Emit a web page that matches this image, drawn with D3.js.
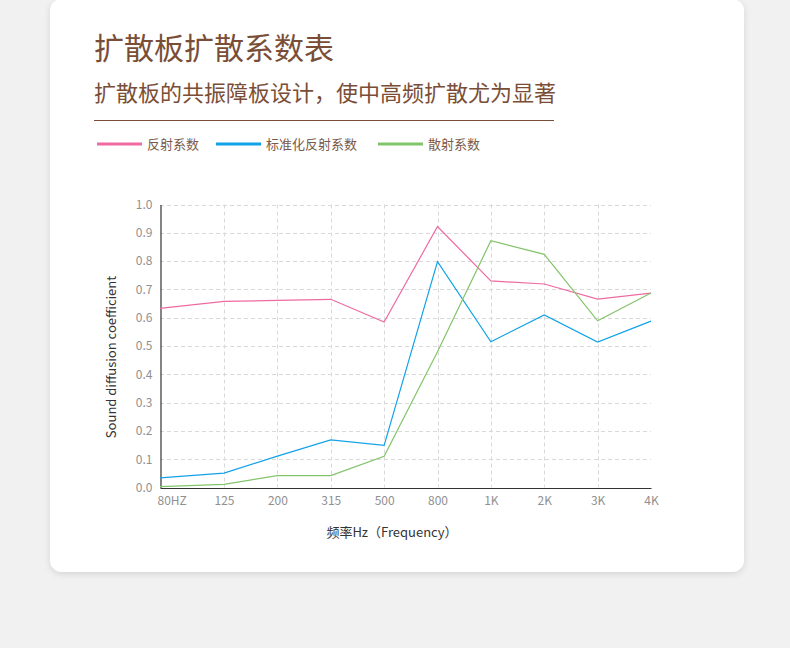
<!DOCTYPE html>
<html>
<head>
<meta charset="utf-8">
<script src="https://cdn.jsdelivr.net/npm/d3@7"></script>
<style>
    html, body {
        margin: 0;
        padding: 0;
        background: #f1f1f1;
        font-family: "Noto Sans CJK SC", "Noto Sans", sans-serif;
    }
    svg { display: block; }
</style>
</head>
<body>
<div id="chart"></div>
<script>
    // chart data
    let freqs = ['80HZ', '125', '200', '315', '500', '800', '1K', '2K', '3K', '4K']
    let reflect = [0.633, 0.658, 0.661, 0.665, 0.585, 0.922, 0.730, 0.719, 0.666, 0.687]
    let normReflect = [0.034, 0.051, 0.111, 0.168, 0.149, 0.798, 0.515, 0.610, 0.514, 0.588]
    let scatter = [0.003, 0.011, 0.042, 0.042, 0.110, 0.480, 0.872, 0.824, 0.589, 0.687]
    let seriesNames = ['反射系数', '标准化反射系数', '散射系数']
    let yTicks = [0, 0.1, 0.2, 0.3, 0.4, 0.5, 0.6, 0.7, 0.8, 0.9, 1.0]

    let colors = ['#ee6aa1', '#11a2e8', '#82c46a']
    let brown = '#7a4e36'

    let width = 790
    let height = 648

    let svg = d3.select('#chart')
        .append('svg')
        .attr('width', width)
        .attr('height', height)

    // card with soft shadow
    let defs = svg.append('defs')
    let f = defs.append('filter').attr('id', 'shadow')
        .attr('x', '-5%').attr('y', '-5%').attr('width', '110%').attr('height', '115%')
    f.append('feDropShadow')
        .attr('dx', 0).attr('dy', 2).attr('stdDeviation', 3)
        .attr('flood-color', '#000').attr('flood-opacity', 0.12)

    svg.append('rect')
        .attr('x', 50).attr('y', -1)
        .attr('width', 694).attr('height', 573)
        .attr('rx', 12)
        .attr('fill', '#fff')
        .attr('filter', 'url(#shadow)')

    // headings
    svg.append('text')
        .attr('x', 94).attr('y', 59)
        .attr('fill', brown)
        .style('font-size', '30px')
        .text('扩散板扩散系数表')

    svg.append('text')
        .attr('x', 94).attr('y', 101)
        .attr('fill', brown)
        .style('font-size', '22px')
        .text('扩散板的共振障板设计，使中高频扩散尤为显著')

    svg.append('line')
        .attr('x1', 94).attr('x2', 554)
        .attr('y1', 120.5).attr('y2', 120.5)
        .attr('stroke', brown).attr('stroke-width', 1)

    // legend
    let legendX = [97, 216, 378]
    for (let i = 0; i < seriesNames.length; i = i + 1) {
        svg.append('line')
            .attr('x1', legendX[i]).attr('x2', legendX[i] + 45)
            .attr('y1', 144).attr('y2', 144)
            .attr('stroke', colors[i]).attr('stroke-width', 3)
        svg.append('text')
            .attr('x', legendX[i] + 50).attr('y', 148.5)
            .attr('fill', '#7a5a4a')
            .style('font-size', '13px')
            .text(seriesNames[i])
    }

    // scales
    let x = d3.scaleLinear()
        .domain([0, 1, freqs.length - 1])
        .range([160, 224, 651])

    let y = d3.scaleLinear()
        .domain([0, 1])
        .range([487.5, 204.5])

    let plot = svg.append('g')

    // horizontal grid
    plot.selectAll('.hgrid')
        .data(yTicks.slice(1))
        .enter()
        .append('line')
        .attr('x1', 160).attr('x2', 651)
        .attr('y1', d => Math.round(y(d)) + 0.5)
        .attr('y2', d => Math.round(y(d)) + 0.5)
        .attr('stroke', '#d9d9d9')
        .attr('stroke-dasharray', '4,3')

    // vertical grid
    plot.selectAll('.vgrid')
        .data(d3.range(1, freqs.length - 1))
        .enter()
        .append('line')
        .attr('x1', d => Math.round(x(d)) + 0.5)
        .attr('x2', d => Math.round(x(d)) + 0.5)
        .attr('y1', y(1)).attr('y2', y(0))
        .attr('stroke', '#d9d9d9')
        .attr('stroke-dasharray', '4,3')

    // y axis
    let yAxis = plot.append('g')
        .attr('transform', 'translate(160.5,0)')
        .call(d3.axisLeft(y).tickValues(yTicks).tickFormat(d3.format('.1f')).tickSize(0).tickPadding(8))
    yAxis.select('.domain').attr('stroke', '#333').attr('stroke-width', 1.2)
    yAxis.selectAll('text')
        .attr('fill', '#909090')
        .style('font-size', '12px')
        .style('font-family', '"Noto Sans CJK SC", sans-serif')

    // x axis
    let xAxis = plot.append('g')
        .attr('transform', 'translate(0,' + (y(0) + 0.5) + ')')
        .call(d3.axisBottom(x).tickValues(d3.range(freqs.length))
            .tickFormat(i => freqs[i]).tickSize(0).tickPadding(8))
    xAxis.select('.domain').attr('stroke', '#333').attr('stroke-width', 1.2)
    xAxis.selectAll('text')
        .attr('fill', '#909090')
        .style('font-size', '12px')
        .style('font-family', '"Noto Sans CJK SC", sans-serif')
    xAxis.selectAll('.tick')
        .filter(d => d === 0)
        .select('text')
        .attr('text-anchor', 'start')
        .attr('x', -3)

    // axis titles
    svg.append('text')
        .attr('transform', 'translate(116,357) rotate(-90)')
        .attr('text-anchor', 'middle')
        .attr('fill', '#333')
        .style('font-size', '13px')
        .text('Sound diffusion coefficient')

    svg.append('text')
        .attr('x', 392).attr('y', 537)
        .attr('text-anchor', 'middle')
        .attr('fill', '#333')
        .style('font-size', '13px')
        .text('频率Hz（Frequency）')

    // lines
    let line = d3.line()
        .x((d, i) => x(i))
        .y(d => y(d))

    let allSeries = [reflect, normReflect, scatter]
    for (let i = 0; i < allSeries.length; i = i + 1) {
        plot.append('path')
            .datum(allSeries[i])
            .attr('d', line)
            .attr('fill', 'none')
            .attr('stroke', colors[i])
            .attr('stroke-width', 1.2)
    }
</script>
</body>
</html>
